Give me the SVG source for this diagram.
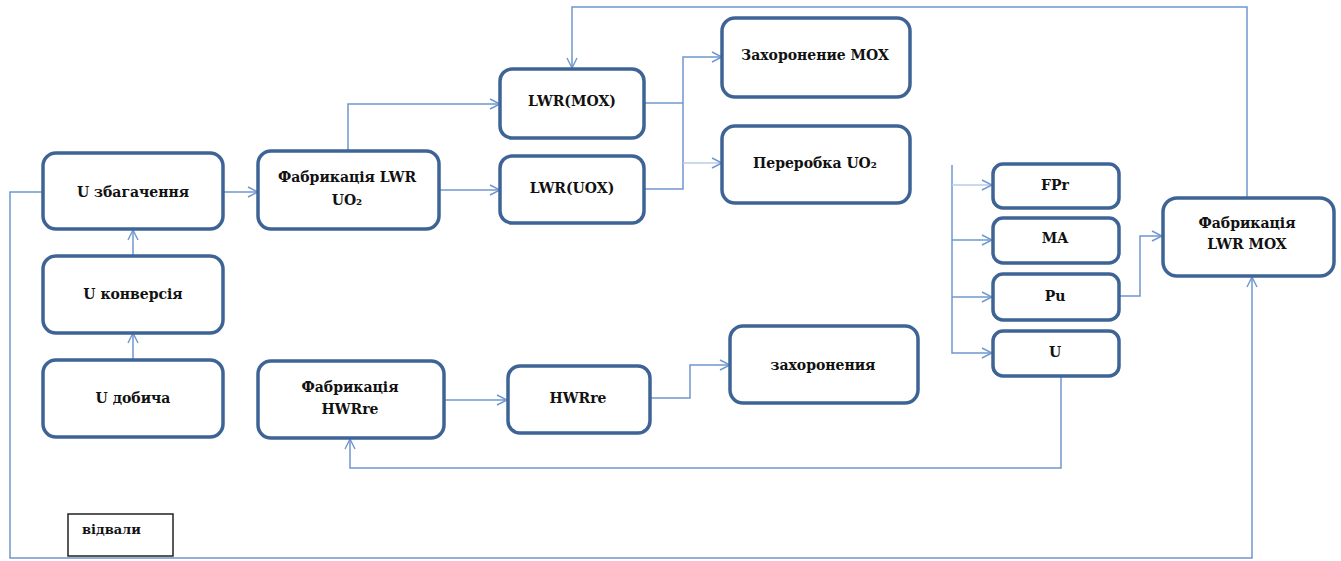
<svg xmlns="http://www.w3.org/2000/svg" width="1341" height="561" viewBox="0 0 1341 561">
  <defs>
    <marker id="arr" viewBox="0 0 12 12" refX="11" refY="6" markerWidth="12" markerHeight="12" markerUnits="userSpaceOnUse" orient="auto">
      <path d="M1 1 L11 6 L1 11" fill="none" stroke="#6F97CE" stroke-width="1.4"/>
    </marker>
    <style>
      .box { fill: #ffffff; stroke: #3E6496; stroke-width: 3.5; }
      .plain { fill: #ffffff; stroke: #222222; stroke-width: 1.5; }
      .lbl { font-family: 'DejaVu Serif', serif; font-weight: bold; font-size: 14px; fill: #111111; text-anchor: middle; }
      .small { font-size: 13px; text-anchor: start; }
      .con { fill: none; stroke: #6F97CE; stroke-width: 1.5; }
      .faint { stroke: #B9CDE8; }
    </style>
  </defs>

  <rect width="1341" height="561" fill="#ffffff"/>

  <!-- connectors -->
  <g id="connectors">
    <!-- uranium front end -->
    <path class="con" d="M133 360 V333" marker-end="url(#arr)"/>
    <path class="con" d="M133 255 V230" marker-end="url(#arr)"/>
    <path class="con" d="M223 192 H258" marker-end="url(#arr)"/>
    <!-- UO2 fabrication to reactors -->
    <path class="con" d="M348 150 V104 H500" marker-end="url(#arr)"/>
    <path class="con" d="M439 190 H500" marker-end="url(#arr)"/>
    <!-- reactor discharge -->
    <path class="con" d="M644 103 H683"/>
    <path class="con" d="M644 189 H683 V57 H722" marker-end="url(#arr)"/>
    <path class="con faint" d="M683 163 H722" marker-end="url(#arr)"/>
    <!-- reprocessing products -->
    <path class="con" d="M952 165 V353 H992" marker-end="url(#arr)"/>
    <path class="con faint" d="M952 185 H992" marker-end="url(#arr)"/>
    <path class="con" d="M952 240 H992" marker-end="url(#arr)"/>
    <path class="con" d="M952 297 H992" marker-end="url(#arr)"/>
    <!-- Pu to MOX fabrication -->
    <path class="con" d="M1119 296 H1140 V236 H1162" marker-end="url(#arr)"/>
    <!-- MOX fabrication back to LWR(MOX) -->
    <path class="con" d="M1247 197 V7 H572 V68" marker-end="url(#arr)"/>
    <!-- recovered U to HWR fabrication -->
    <path class="con" d="M1061 377 V468 H350 V439" marker-end="url(#arr)"/>
    <!-- HWR chain -->
    <path class="con" d="M445 400 H507" marker-end="url(#arr)"/>
    <path class="con" d="M650 398 H690 V365 H730" marker-end="url(#arr)"/>
    <!-- enrichment loop to MOX fabrication -->
    <path class="con" d="M43 192 H10 V558 H1252 V277" marker-end="url(#arr)"/>
  </g>

  <!-- nodes -->
  <g id="n-enrich">
    <rect class="box" x="43" y="153" width="180" height="76" rx="13"/>
    <text class="lbl" x="133" y="197">U збагачення</text>
  </g>
  <g id="n-conv">
    <rect class="box" x="43" y="256" width="180" height="77" rx="13"/>
    <text class="lbl" x="133" y="299">U конверсія</text>
  </g>
  <g id="n-mine">
    <rect class="box" x="43" y="360" width="180" height="77" rx="13"/>
    <text class="lbl" x="133" y="403">U добича</text>
  </g>
  <g id="n-fab-uo2">
    <rect class="box" x="258" y="151" width="181" height="78" rx="13"/>
    <text class="lbl" x="347" y="182">Фабрикація LWR</text>
    <text class="lbl" x="347" y="205">UO₂</text>
  </g>
  <g id="n-lwr-mox">
    <rect class="box" x="500" y="69" width="144" height="69" rx="12"/>
    <text class="lbl" x="572" y="106">LWR(MOX)</text>
  </g>
  <g id="n-lwr-uox">
    <rect class="box" x="500" y="156" width="144" height="67" rx="12"/>
    <text class="lbl" x="572" y="193">LWR(UOX)</text>
  </g>
  <g id="n-disp-mox">
    <rect class="box" x="722" y="18" width="188" height="79" rx="13"/>
    <text class="lbl" x="815" y="60">Захоронение MOX</text>
  </g>
  <g id="n-repro">
    <rect class="box" x="722" y="126" width="188" height="77" rx="13"/>
    <text class="lbl" x="815" y="168">Переробка UO₂</text>
  </g>
  <g id="n-fpr">
    <rect class="box" x="993" y="164" width="126" height="44" rx="10"/>
    <text class="lbl" x="1055" y="190">FPr</text>
  </g>
  <g id="n-ma">
    <rect class="box" x="993" y="218" width="126" height="45" rx="10"/>
    <text class="lbl" x="1055" y="243">MA</text>
  </g>
  <g id="n-pu">
    <rect class="box" x="993" y="274" width="126" height="46" rx="10"/>
    <text class="lbl" x="1055" y="301">Pu</text>
  </g>
  <g id="n-u">
    <rect class="box" x="993" y="331" width="126" height="45" rx="10"/>
    <text class="lbl" x="1055" y="357">U</text>
  </g>
  <g id="n-fab-mox">
    <rect class="box" x="1163" y="198" width="171" height="78" rx="14"/>
    <text class="lbl" x="1247" y="228">Фабрикація</text>
    <text class="lbl" x="1247" y="249">LWR MOX</text>
  </g>
  <g id="n-fab-hwr">
    <rect class="box" x="258" y="361" width="186" height="77" rx="13"/>
    <text class="lbl" x="350" y="392">Фабрикація</text>
    <text class="lbl" x="350" y="414">HWRre</text>
  </g>
  <g id="n-hwr">
    <rect class="box" x="508" y="366" width="142" height="67" rx="12"/>
    <text class="lbl" x="578" y="403">HWRre</text>
  </g>
  <g id="n-disp">
    <rect class="box" x="730" y="326" width="188" height="77" rx="13"/>
    <text class="lbl" x="823" y="370">захоронения</text>
  </g>
  <g id="n-tails">
    <rect class="plain" x="68" y="514" width="105" height="42"/>
    <text class="lbl small" x="82" y="534">відвали</text>
  </g>
</svg>
